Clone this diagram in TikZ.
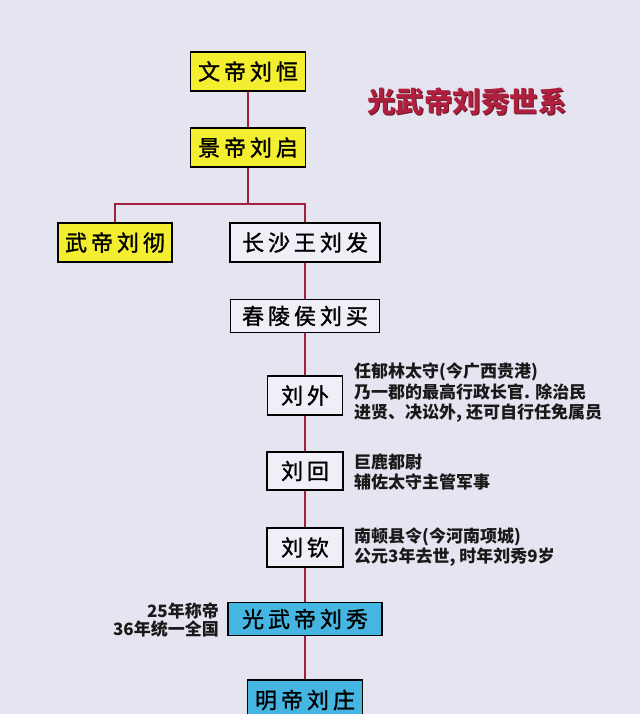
\documentclass[tikz,border=0pt]{standalone}
\usepackage{fontspec}
\newfontfamily\cjk{Noto Sans CJK SC}
\newfontfamily\cjkbox[LetterSpace=18,FakeBold=1.3]{Noto Sans CJK SC}
\definecolor{bgc}{HTML}{E5E5F2}
\definecolor{yel}{HTML}{F4EE30}
\definecolor{pale}{HTML}{EFEFF7}
\definecolor{blu}{HTML}{45B6E2}
\definecolor{lnc}{HTML}{A0203E}
\definecolor{ttl}{HTML}{B0203E}
\definecolor{ttlsh}{HTML}{6A1828}
\tikzset{
  box/.style={draw=black, line width=1.3pt, inner sep=0pt, font=\cjkbox\fontsize{22}{24}\selectfont, text=black},
  ybox/.style={box, fill=yel},
  pbox/.style={box, fill=pale},
  bbox/.style={box, fill=blu},
  link/.style={draw=lnc, line width=1.6pt},
  note/.style={inner sep=0pt, font=\cjk\bfseries\fontsize{17}{20.5}\selectfont, text=black!90},
  ttlfont/.style={inner sep=0pt, font=\cjk\bfseries\fontsize{28.5}{30}\selectfont}
}
\begin{document}
\begin{tikzpicture}[x=1pt,y=-1pt]
\fill[bgc] (0,0) rectangle (640,714);
\useasboundingbox (0,0) rectangle (640,714);
\coordinate (split) at (248,204);
\node[ybox, minimum width=115pt, minimum height=39pt] (wen) at (248,71.5) {文帝刘恒};
\node[ybox, minimum width=115pt, minimum height=39pt] (jing) at (248,147.5) {景帝刘启};
\node[ybox, minimum width=114pt, minimum height=39pt] (wu) at (115,242.5) {武帝刘彻};
\node[pbox, minimum width=150pt, minimum height=39pt] (cs) at (305,242.5) {长沙王刘发};
\node[pbox, minimum width=149pt, minimum height=33pt] (cl) at (305,316) {春陵侯刘买};
\node[pbox, minimum width=75pt, minimum height=39pt] (lw) at (305,395.5) {刘外};
\node[pbox, minimum width=76pt, minimum height=38pt] (lh) at (305,471) {刘回};
\node[pbox, minimum width=76pt, minimum height=39pt] (lq) at (305,547.5) {刘钦};
\node[bbox, minimum width=154pt, minimum height=33pt] (gw) at (305,619) {光武帝刘秀};
\node[bbox, minimum width=115pt, minimum height=40pt] (mi) at (305,700) {明帝刘庄};
\draw[link] (wen.south) -- (jing.north);
\draw[link] (jing.south) -- (split);
\draw[link] (split) -| (wu.north);
\draw[link] (split) -| (cs.north);
\draw[link] (cs.south) -- (cl.north);
\draw[link] (cl.south) -- (lw.north);
\draw[link] (lw.south) -- (lh.north);
\draw[link] (lh.south) -- (lq.north);
\draw[link] (lq.south) -- (gw.north);
\draw[link] (gw.south) -- (mi.north);
\node[ttlfont, text=ttlsh] (titlesh) at (467.8,102.8) {光武帝刘秀世系};
\node[ttlfont, text=ttl] (title) at (467,102) {光武帝刘秀世系};
\node[note, anchor=west, align=left] (nw) at (354,393) {任郁林太守(今广西贵港)\\乃一郡的最高行政长官. 除治民\\进贤、决讼外, 还可自行任免属员};
\node[note, anchor=west, align=left] (nh) at (354,472) {巨鹿都尉\\辅佐太守主管军事};
\node[note, anchor=west, align=left] (nq) at (354,547) {南顿县令(今河南项城)\\公元3年去世, 时年刘秀9岁};
\node[note, anchor=east, align=right, font=\cjk\bfseries\fontsize{17}{18}\selectfont] (ng) at (219,620.5) {25年称帝\\36年统一全国};
\end{tikzpicture}
\end{document}
